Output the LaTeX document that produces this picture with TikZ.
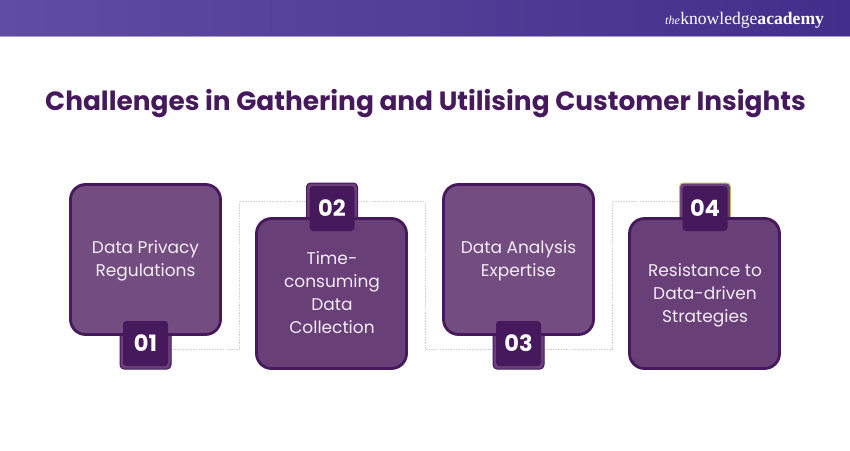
\documentclass[tikz,border=0pt]{standalone}
\usepackage{fontspec}
\setmainfont{Poppins}
\newfontfamily\logofont{Liberation Serif}
\usetikzlibrary{calc}
\definecolor{inkdark}{HTML}{45195C}
\definecolor{titleink}{HTML}{46195C}
\definecolor{cardA}{HTML}{734C80}
\definecolor{cardB}{HTML}{693F78}
\definecolor{tabfill}{HTML}{6A3F7A}
\definecolor{cardtext}{HTML}{F3ECF5}
\definecolor{bandL}{HTML}{614CA3}
\definecolor{bandR}{HTML}{432E8B}
\definecolor{bandedge}{HTML}{A79CCB}
\definecolor{limeedge}{HTML}{B5C26A}
\tikzset{
  x=1pt,y=-1pt,
  cardbox/.style={draw=inkdark,line width=2.8pt,rounded corners=15pt,minimum width=150pt,minimum height=150pt,inner sep=0pt,fill=#1},
  cardbox/.default=cardA,
  cardtxt/.style={text=cardtext,align=center,font=\fontsize{17}{23.2}\selectfont,inner sep=0pt},
  tabouter/.style={draw=inkdark,line width=1pt,rounded corners=4pt,fill=tabfill,minimum width=51pt,minimum height=51pt,inner sep=0pt},
  tabinner/.style={fill=inkdark,rounded corners=3.5pt,minimum width=45pt,minimum height=45pt,inner sep=0pt,text=white,font=\fontsize{22.5}{26}\selectfont\bfseries},
  linkline/.style={draw=black!18,line width=1pt,dash pattern=on 1.6pt off 1.1pt},
}
\begin{document}
\begin{tikzpicture}
\useasboundingbox (0,0) rectangle (850,450);
% header band
\shade[left color=bandL,right color=bandR] (0,0) rectangle (850,36);
\fill[bandedge] (0,36) rectangle (850,37);
\node[anchor=base west,inner sep=0pt,text=white,font=\logofont\fontsize{12}{12}\selectfont\itshape] (logoa) at (665,24) {the};
\node[anchor=base west,inner sep=0pt,text=white,font=\logofont\fontsize{17.6}{18}\selectfont] (logob) at (logoa.base east) {knowledge\textbf{academy}};
% title
\node[text=titleink,inner sep=0pt,font=\fontsize{26.4}{32}\selectfont\bfseries] (title) at (425.5,103.5) {Challenges in Gathering and Utilising Customer Insights};
% tabs sit behind the cards
\node[tabouter] (t1) at (145.5,343.5) {};
\node[tabouter] (t2) at (332,208.5) {};
\node[tabouter] (t3) at (518.5,343.5) {};
\node[tabouter,draw=limeedge] (t4) at (705,208.5) {};
% turning points of the connectors
\coordinate (k1) at (239,201);
\coordinate (k2) at (425,349);
\coordinate (k3) at (612,201);
\draw[linkline] (t1.east |- k2) -- (k1 |- k2) -- (k1) -- (t2.west |- k1);
\draw[linkline] (t2.east |- k1) -- (k2 |- k1) -- (k2) -- (t3.west |- k2);
\draw[linkline] (t3.east |- k2) -- (k3 |- k2) -- (k3) -- (t4.west |- k3);
% cards
\node[cardbox] (c1) at (145.5,259.5) {};
\node[cardbox=cardB] (c2) at (331.5,293.5) {};
\node[cardbox] (c3) at (518.5,259.5) {};
\node[cardbox=cardB] (c4) at (704.5,293.5) {};
\node[cardtxt] (l1) at (145.5,261) {Data Privacy\\Regulations};
\node[cardtxt] (l2) at (332,292.5) {Time-\\consuming\\Data\\Collection};
\node[cardtxt] (l3) at (518.5,261) {Data Analysis\\Expertise};
\node[cardtxt] (l4) at (705,295.5) {Resistance to\\Data-driven\\Strategies};
% numbered tabs
\node[tabinner] (n1) at (145.5,343.5) {01};
\node[tabinner] (n2) at (332,208.5) {02};
\node[tabinner] (n3) at (518.5,343.5) {03};
\node[tabinner] (n4) at (705,208.5) {04};
\end{tikzpicture}
\end{document}
